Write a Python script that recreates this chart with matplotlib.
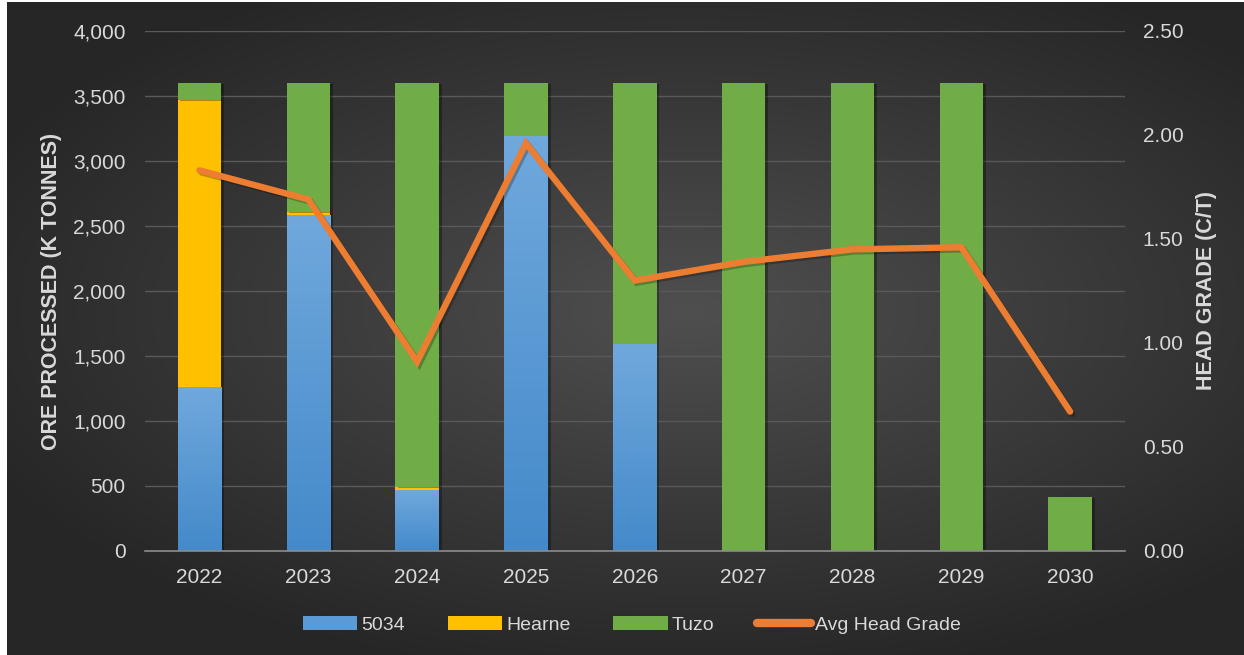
import matplotlib
matplotlib.use('Agg')
import matplotlib.pyplot as plt
import matplotlib.patheffects as pe
from matplotlib.patches import Patch
from matplotlib.lines import Line2D
from matplotlib.ticker import FuncFormatter
import numpy as np

years = ['2022', '2023', '2024', '2025', '2026', '2027', '2028', '2029', '2030']
ore_5034 = [1260, 2580, 462, 3190, 1585, 0, 0, 0, 0]
ore_hearne = [2210, 30, 30, 0, 0, 0, 0, 0, 0]
ore_tuzo = [130, 990, 3108, 410, 2015, 3600, 3600, 3600, 415]
head_grade = [1.83, 1.69, 0.91, 1.96, 1.30, 1.39, 1.45, 1.46, 0.67]

C_BLUE = '#5b9bd5'
C_GOLD = '#ffc000'
C_GREEN = '#70ad47'
C_ORANGE = '#ed7d31'
TXT = '#d9d9d9'

plt.rcParams['font.family'] = ['Liberation Sans', 'DejaVu Sans']

fig = plt.figure(figsize=(12.44, 6.55), dpi=100)
fig.patch.set_facecolor('white')

# --- radial gradient background ---
bg = fig.add_axes([0.006, 0.0, 0.994, 0.997], zorder=-10)
yy, xx = np.mgrid[-1:1:300j, -1:1:600j]
r = np.sqrt(((xx - 0.1) / 1.1) ** 2 + ((yy + 0.05) / 1.0) ** 2)
shade = np.clip(0.31 - 0.14 * r, 0.15, 0.31)
bg.imshow(np.dstack([shade] * 3), aspect='auto', extent=(0, 1, 0, 1))
bg.set_axis_off()

ax = fig.add_axes([0.1166, 0.1588, 0.7874, 0.7939])
ax.patch.set_alpha(0)
x = np.arange(len(years))
w = 0.40
shadow = [pe.SimplePatchShadow(offset=(2, -1), alpha=0.3, shadow_rgbFace='black'), pe.Normal()]

b1 = ax.bar(x, ore_5034, w, color=C_BLUE, zorder=3, path_effects=shadow)
b2 = ax.bar(x, ore_hearne, w, bottom=ore_5034, color=C_GOLD, zorder=3, path_effects=shadow)
bottom3 = np.array(ore_5034) + np.array(ore_hearne)
b3 = ax.bar(x, ore_tuzo, w, bottom=bottom3, color=C_GREEN, zorder=3, path_effects=shadow)

# vertical gradient on the 5034 bars
grad = np.linspace(0, 1, 100).reshape(-1, 1)
top_c = np.array([0x70, 0xa8, 0xdc]) / 255
bot_c = np.array([0x44, 0x8a, 0xca]) / 255
grad_img = top_c * (1 - grad)[..., None] + bot_c * grad[..., None]
grad_img = grad_img.reshape(100, 1, 3)
for rect in b1:
    h = rect.get_height()
    if h <= 0:
        continue
    x0 = rect.get_x()
    ax.imshow(grad_img, extent=(x0, x0 + rect.get_width(), 0, h),
              aspect='auto', zorder=3.5, origin='upper')

ax.set_xlim(-0.5, len(years) - 0.5)
ax.set_ylim(0, 4000)
ax.set_yticks(np.arange(0, 4001, 500))
ax.yaxis.set_major_formatter(FuncFormatter(lambda v, p: f'{v:,.0f}'))
ax.set_xticks(x)
ax.set_xticklabels(years)
ax.grid(True, axis='y', color='#595959', linewidth=1, zorder=0)
ax.set_axisbelow(True)
for s in ['top', 'right', 'left']:
    ax.spines[s].set_visible(False)
ax.spines['bottom'].set_color('#8c8c8c')
ax.spines['bottom'].set_linewidth(1.2)
ax.spines['bottom'].set_zorder(4)
ax.tick_params(axis='both', length=0, colors=TXT, labelsize=15)
ax.tick_params(axis='y', pad=14)
ax.tick_params(axis='x', pad=12)
ax.set_ylabel('ORE PROCESSED (K TONNES)', color=TXT, fontsize=15.5,
              fontweight='bold', labelpad=8)

ax2 = ax.twinx()
ax2.patch.set_alpha(0)
ax2.plot(x, head_grade, color=C_ORANGE, linewidth=4.6, solid_joinstyle='miter',
         solid_capstyle='round', zorder=5,
         path_effects=[pe.SimpleLineShadow(offset=(1.5, -1.5), alpha=0.25), pe.Normal()])
ax2.set_ylim(0, 2.5)
ax2.set_yticks(np.arange(0, 2.51, 0.5))
ax2.yaxis.set_major_formatter(FuncFormatter(lambda v, p: f'{v:.2f}'))
for s in ax2.spines.values():
    s.set_visible(False)
ax2.tick_params(axis='y', length=0, colors=TXT, labelsize=15, pad=13)
ax2.set_ylabel('HEAD GRADE (C/T)', color=TXT, fontsize=15.5,
               fontweight='bold', labelpad=9)

handles = [Patch(facecolor=C_BLUE), Patch(facecolor=C_GOLD), Patch(facecolor=C_GREEN),
           Line2D([0], [0], color=C_ORANGE, linewidth=6, solid_capstyle='round')]
labels = ['5034', 'Hearne', 'Tuzo', 'Avg Head Grade']
fig.legend(handles, labels, loc='center', bbox_to_anchor=(0.508, 0.046), ncol=4,
           frameon=False, fontsize=14, labelcolor=TXT, handlelength=2.8,
           handleheight=0.75, handletextpad=0.2, columnspacing=2.2)

fig.savefig('out.png', dpi=100, facecolor=fig.get_facecolor())
